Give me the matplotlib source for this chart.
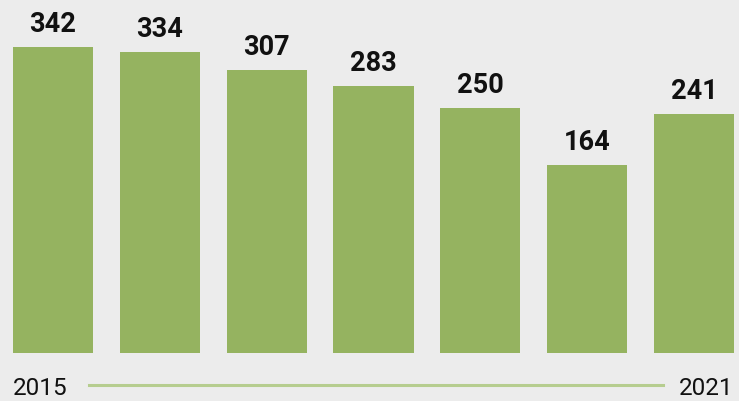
import matplotlib
matplotlib.use("Agg")
import matplotlib.pyplot as plt
from matplotlib.lines import Line2D

years = [2015, 2016, 2017, 2018, 2019, 2020, 2021]
values = [342, 334, 307, 283, 250, 164, 241]

BAR_COLOR = "#95b360"
LINE_COLOR = "#b6cd8f"
BG = "#ececec"
BASE = -119.5

fig = plt.figure(figsize=(7.39, 4.01), dpi=100)
fig.patch.set_facecolor(BG)
ax = fig.add_axes([0, 0, 1, 1])
ax.set_facecolor(BG)

x = list(range(len(years)))
heights = [v - BASE for v in values]
ax.bar(x, heights, bottom=BASE, width=0.749, color=BAR_COLOR, linewidth=0)

for xi, v in zip(x, values):
    ax.annotate(str(v), (xi, v), xytext=(0, 10.8), textcoords="offset points",
                ha="center", va="baseline", fontsize=19.5, fontweight="bold",
                family=["Roboto", "DejaVu Sans"], color="#111111")

ax.set_xlim(-0.495, 6.42)
ax.set_ylim(-192, 413)
ax.axis("off")

fam = ["Roboto", "DejaVu Sans"]
fig.text(12.7 / 739, 6 / 401, str(years[0]), ha="left", va="baseline",
         fontsize=17.5, family=fam, color="#111111")
fig.text(733.5 / 739, 6 / 401, str(years[-1]), ha="right", va="baseline",
         fontsize=17.5, family=fam, color="#111111")
fig.add_artist(Line2D([89 / 739, 663 / 739], [16 / 401, 16 / 401],
                      transform=fig.transFigure, color=LINE_COLOR, lw=2.2))

fig.savefig("out.png", dpi=100, facecolor=BG)
